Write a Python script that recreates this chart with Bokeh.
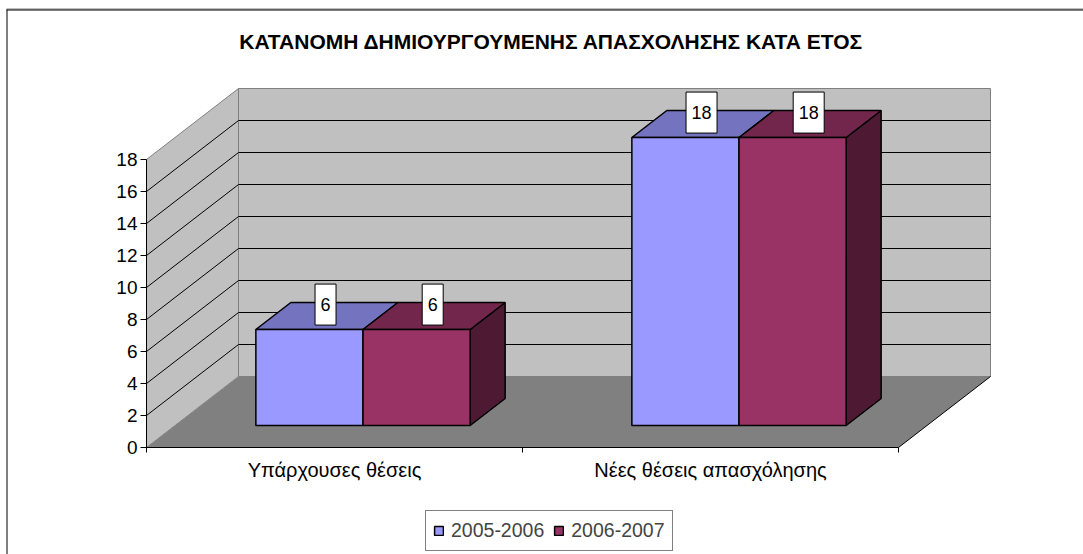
from bokeh.plotting import figure
from bokeh.models import Range1d, LinearAxis, FixedTicker, Legend, LegendItem, Label, ColumnDataSource
from bokeh.core.properties import value
from bokeh.embed import file_html
from bokeh.resources import INLINE

# ---------------- data ----------------
title_text = "ΚΑΤΑΝΟΜΗ ΔΗΜΙΟΥΡΓΟΥΜΕΝΗΣ ΑΠΑΣΧΟΛΗΣΗΣ ΚΑΤΑ ΕΤΟΣ"
categories = ["Υπάρχουσες θέσεις", "Νέες θέσεις απασχόλησης"]
series_names = ["2005-2006", "2006-2007"]
values_2005_2006 = [6, 18]
values_2006_2007 = [6, 18]
y_ticks = [0, 2, 4, 6, 8, 10, 12, 14, 16, 18]

series_values = [values_2005_2006, values_2006_2007]

# ---------------- style ----------------
FONT = "Liberation Sans"
front_colors = ["#9999FF", "#993366"]
top_colors = ["#7373BF", "#73264C"]
side_colors = ["#4D4D80", "#4D1933"]
WALL = "#C0C0C0"
FLOOR = "#808080"
EDGE = "#808080"

W, H = 1083, 554
OX, OY = 146.0, 447.0   # screen position of the front axes origin
PX_X = 376.0            # pixels per category
PX_Y = 16.0             # pixels per value unit
DX = 92.0 / PX_X        # full depth offset (x, data units)
DY = 71.0 / PX_Y        # full depth offset (y, data units)
BW = 0.285              # bar width (category units)
D0, D1 = 0.31, 0.69     # bar depth extent
n_cat = len(categories)
y_top = max(y_ticks)


def X(px):
    return (px - OX) / PX_X


def Y(py):
    return (OY - py) / PX_Y


def proj(x, v, d):
    return x + d * DX, v + d * DY


p = figure(width=W, height=H,
           x_range=Range1d(X(0), X(W)), y_range=Range1d(Y(H), Y(0)),
           output_backend="svg", toolbar_location=None,
           min_border=0, min_border_left=0, min_border_right=0, min_border_top=0, min_border_bottom=0,
           x_axis_type=None, y_axis_type=None)
p.outline_line_color = None
p.background_fill_color = "white"
p.border_fill_color = "white"


def quad_pts(pts):
    return [q[0] for q in pts], [q[1] for q in pts]


# outer chart border (left and top; the rest lies beyond the picture)
p.line([X(6.5), X(6.5)], [Y(9), Y(H)], line_color="black", line_width=1)
p.line([X(6), X(W)], [Y(8.5), Y(8.5)], line_color="#808080", line_width=1)
p.line([X(6), X(W)], [Y(9.5), Y(9.5)], line_color="black", line_width=1)

# floor
fx, fy = quad_pts([proj(0, 0, 0), proj(n_cat, 0, 0), proj(n_cat, 0, 1), proj(0, 0, 1)])
p.patch(fx, fy, fill_color=FLOOR, line_color=None)
# walls
sx, sy = quad_pts([proj(0, 0, 0), proj(0, y_top, 0), proj(0, y_top, 1), proj(0, 0, 1)])
p.patch(sx, sy, fill_color=WALL, line_color=EDGE, line_width=1)
bx, by = quad_pts([proj(0, 0, 1), proj(n_cat, 0, 1), proj(n_cat, y_top, 1), proj(0, y_top, 1)])
p.patch(bx, by, fill_color=WALL, line_color=EDGE, line_width=1)

# gridlines
gxs, gys = [], []
for v in y_ticks[1:-1]:
    a = proj(0, v, 0); b = proj(0, v, 1); c = proj(n_cat, v, 1)
    gxs.append([a[0], b[0], c[0]]); gys.append([a[1], b[1], c[1]])
p.multi_line(gxs, gys, line_color="black", line_width=1)

# floor right edge
r0 = proj(n_cat, 0, 0); r1 = proj(n_cat, 0, 1)
p.line([r0[0], r1[0]], [r0[1], r1[1]], line_color="black", line_width=1)

# bars
legend_items = []
for j, vals in enumerate(series_values):
    side_x, side_y, top_x, top_y = [], [], [], []
    left, right, bottom, top = [], [], [], []
    for i, val in enumerate(vals):
        x0 = i + 0.5 - BW + j * BW
        x1 = x0 + BW
        a, b = quad_pts([proj(x1, 0, D0), proj(x1, val, D0), proj(x1, val, D1), proj(x1, 0, D1)])
        side_x.append(a); side_y.append(b)
        a, b = quad_pts([proj(x0, val, D0), proj(x1, val, D0), proj(x1, val, D1), proj(x0, val, D1)])
        top_x.append(a); top_y.append(b)
        l, btm = proj(x0, 0, D0)
        r, tp = proj(x1, val, D0)
        left.append(l); right.append(r); bottom.append(btm); top.append(tp)
    p.patches(side_x, side_y, fill_color=side_colors[j], line_color="black", line_width=1.5)
    p.patches(top_x, top_y, fill_color=top_colors[j], line_color="black", line_width=1.5)
    rq = p.quad(left=left, right=right, bottom=bottom, top=top,
                fill_color=front_colors[j], line_color="black", line_width=1.5)
    legend_items.append(LegendItem(label=series_names[j], renderers=[rq]))

# data labels
lx, ly, lt, lw = [], [], [], []
for j, vals in enumerate(series_values):
    for i, val in enumerate(vals):
        xc = i + 0.5 - BW + j * BW + BW / 2
        cx, cy = proj(xc, val, 0.485)
        lx.append(cx); ly.append(cy + 12.5 / PX_Y); lt.append(str(val))
        lw.append(10 * len(str(val)) + 11)
src = ColumnDataSource(dict(x=lx, y=ly, t=lt, w=lw))
p.rect(x="x", y="y", width="w", height=41, width_units="screen", height_units="screen",
       fill_color="white", line_color="black", line_width=1, source=src)
p.text(x="x", y="y", text="t", text_align="center", text_baseline="middle",
       text_font=value(FONT), text_font_size="18px", text_color="black", source=src)

# axes (fixed at the front origin of the 3-D box)
yaxis = LinearAxis(ticker=FixedTicker(ticks=y_ticks), bounds=(0, y_top), fixed_location=0,
                   major_tick_out=6, major_tick_in=0, minor_tick_out=0, minor_tick_in=0,
                   major_label_standoff=3, axis_line_color="black", major_tick_line_color="black",
                   major_label_text_font=FONT, major_label_text_font_size="19px",
                   major_label_text_color="black")
p.add_layout(yaxis, "left")

xaxis = LinearAxis(ticker=FixedTicker(ticks=[i + 0.5 for i in range(n_cat)],
                                      minor_ticks=list(range(n_cat + 1))),
                   bounds=(0, n_cat), fixed_location=0, major_tick_out=0, major_tick_in=0,
                   minor_tick_out=5, minor_tick_in=0, minor_tick_line_color="black",
                   major_label_overrides={i + 0.5: c for i, c in enumerate(categories)},
                   major_label_standoff=6, axis_line_color="black",
                   major_label_text_font=FONT, major_label_text_font_size="20px",
                   major_label_text_color="black")
p.add_layout(xaxis, "below")

# title
p.add_layout(Label(x=X(551), y=Y(41), text=title_text,
                   text_align="center", text_baseline="middle", text_font=FONT,
                   text_font_size="21px", text_font_style="bold", text_color="black"))

legend = Legend(items=legend_items, orientation="horizontal", location=(425, 3),
                border_line_color="black", border_line_width=1, background_fill_color="white",
                background_fill_alpha=1, glyph_width=11, glyph_height=11, label_height=25,
                label_text_font=FONT, label_text_font_size="19.5px", label_standoff=7,
                spacing=9, padding=7, margin=0)
p.add_layout(legend, "center")

open("out.html", "w").write(file_html(p, INLINE))
